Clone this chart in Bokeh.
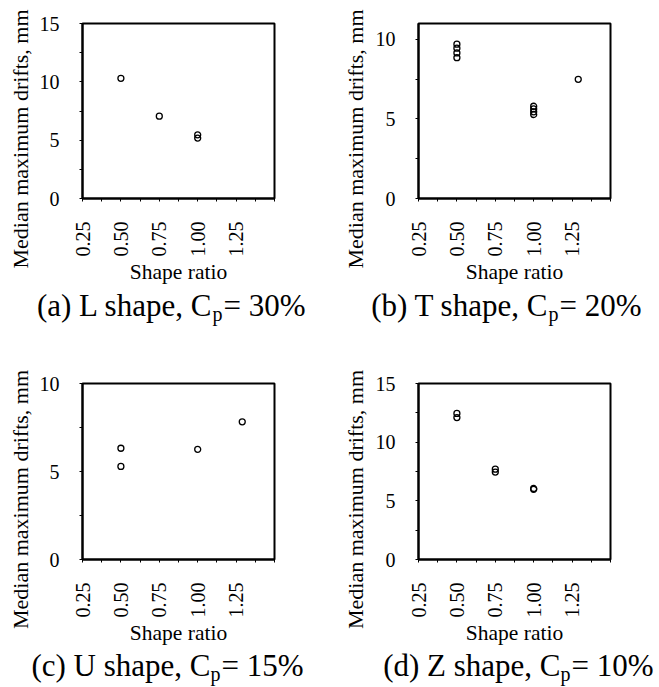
from math import pi
from bokeh.plotting import figure
from bokeh.models import Range1d, FixedTicker, ColumnDataSource
from bokeh.core.properties import value
from bokeh.layouts import column, row
from bokeh.embed import file_html
from bokeh.resources import INLINE

# ---------------- data ----------------
x_ticks = [0.25, 0.50, 0.75, 1.00, 1.25]
x_tick_labels = ["0.25", "0.50", "0.75", "1.00", "1.25"]
x_minor = [0.375, 0.625, 0.875, 1.125, 1.375, 1.5]
x_min, x_max = 0.25, 1.5

ratio_a = [0.5, 0.75, 1.0, 1.0]
drift_a = [10.3, 7.06, 5.46, 5.18]

ratio_b = [0.5, 0.5, 0.5, 0.5, 1.0, 1.0, 1.0, 1.0, 1.29]
drift_b = [9.7, 9.45, 9.15, 8.85, 5.8, 5.63, 5.45, 5.28, 7.49]

ratio_c = [0.5, 0.5, 1.0, 1.29]
drift_c = [6.32, 5.29, 6.26, 7.82]

ratio_d = [0.5, 0.5, 0.75, 0.75, 1.0, 1.0]
drift_d = [12.45, 12.1, 7.7, 7.45, 6.05, 5.98]

y_ticks_15 = [0, 5, 10, 15]
y_minor_15 = [2.5, 7.5, 12.5]
y_ticks_10 = [0, 5, 10]
y_minor_10 = [2.5, 7.5]

x_label = "Shape ratio"
y_label = "Median maximum drifts, mm"

title_main = ["(a) L shape, C", "(b) T shape, C", "(c) U shape, C", "(d) Z shape, C"]
title_sub = ["p", "p", "p", "p"]
title_tail = ["= 30%", "= 20%", "= 15%", "= 10%"]

FONT = "Liberation Serif"
W = 659


def panel(xs, ys, y_end, y_ticks, y_minor, width, height, bl, br, bt, bb):
    p = figure(width=width, height=height, output_backend="svg",
               toolbar_location=None, tools="",
               x_range=Range1d(x_min, x_max), y_range=Range1d(0, y_end),
               min_border_left=bl, min_border_right=br,
               min_border_top=bt, min_border_bottom=bb)
    p.frame_align = False
    p.background_fill_color = "white"
    p.border_fill_color = "white"
    p.outline_line_color = "black"
    p.outline_line_width = 2
    p.outline_line_alpha = 1
    p.xgrid.visible = False
    p.ygrid.visible = False

    src = ColumnDataSource(dict(x=xs, y=ys))
    p.scatter("x", "y", source=src, marker="circle", size=6,
              fill_alpha=0, line_color="black", line_width=1.3)

    xa = p.xaxis[0]
    xa.ticker = FixedTicker(ticks=x_ticks, minor_ticks=x_minor)
    xa.major_label_overrides = {t: s for t, s in zip(x_ticks, x_tick_labels)}
    xa.major_label_orientation = pi / 2
    ya = p.yaxis[0]
    ya.ticker = FixedTicker(ticks=y_ticks, minor_ticks=y_minor)
    for ax in (xa, ya):
        ax.axis_line_color = "black"
        ax.axis_line_width = 2
        ax.major_tick_in = 0
        ax.major_tick_out = 3
        ax.minor_tick_in = 0
        ax.minor_tick_out = 3
        ax.major_tick_line_color = "black"
        ax.minor_tick_line_color = "black"
        ax.major_label_text_font = FONT
        ax.major_label_text_font_size = "20px"
        ax.major_label_text_color = "black"
    xa.major_label_standoff = 20
    ya.major_label_standoff = 20
    xa.axis_label = x_label
    xa.axis_label_text_font = FONT
    xa.axis_label_text_font_size = "21.5px"
    xa.axis_label_text_font_style = "normal"
    xa.axis_label_text_color = "black"
    xa.axis_label_standoff = 0
    return p


def text_fig(width, height):
    f = figure(width=width, height=height, output_backend="svg",
               toolbar_location=None, tools="",
               x_range=Range1d(0, width), y_range=Range1d(height, 0),
               x_axis_location=None, y_axis_location=None,
               min_border=0)
    f.frame_align = False
    f.grid.visible = False
    f.outline_line_color = None
    f.background_fill_color = "white"
    f.border_fill_color = "white"
    return f


def ylabel_fig(width, height, bx, cy):
    f = text_fig(width, height)
    f.text(x=[bx], y=[cy], text=[y_label], angle=pi / 2,
           text_align="center", text_baseline="alphabetic",
           text_font=value(FONT), text_font_size=value("22px"),
           text_color="black")
    return f


def title_fig(height, anchors, base, idx):
    f = text_fig(W, height)
    mains = [title_main[i] for i in idx]
    subs = [title_sub[i] for i in idx]
    tails = [title_tail[i] for i in idx]
    n = len(idx)
    f.text(x=anchors, y=[base] * n, text=mains, text_align="right",
           text_baseline="alphabetic", text_font=value(FONT),
           text_font_size=value("31px"), text_color="black")
    f.text(x=anchors, y=[base + 8] * n, text=subs, text_align="left",
           text_baseline="alphabetic", text_font=value(FONT),
           text_font_size=value("20px"), text_color="black")
    f.text(x=[a + 11 for a in anchors], y=[base] * n, text=tails,
           text_align="left", text_baseline="alphabetic",
           text_font=value(FONT), text_font_size=value("31px"),
           text_color="black")
    return f


# row 1 : panels (a) and (b)
H1 = 288
yl_a = ylabel_fig(36, H1, 19.5, 138.5)
pa = panel(ratio_a, drift_a, 15, y_ticks_15, y_minor_15, 294, H1, 41, 56, 23, 90)
yl_b = ylabel_fig(42, H1, 24.5, 138.5)
pb = panel(ratio_b, drift_b, 11, y_ticks_10, y_minor_10, 287, H1, 41, 49, 23, 90)

# row 2 : titles (a), (b)
t1 = title_fig(52, [212, 548], 17.2, [0, 1])

# row 3 : panels (c) and (d)
H3 = 308
yl_c = ylabel_fig(36, H3, 19.5, 159)
pc = panel(ratio_c, drift_c, 10, y_ticks_10, y_minor_10, 294, H3, 41, 56, 43, 89)
yl_d = ylabel_fig(42, H3, 24.5, 159)
pd = panel(ratio_d, drift_d, 15, y_ticks_15, y_minor_15, 287, H3, 41, 49, 43, 89)

# row 4 : titles (c), (d)
t2 = title_fig(39, [210, 560], 17.2, [2, 3])

layout = column(row(yl_a, pa, yl_b, pb), t1, row(yl_c, pc, yl_d, pd), t2)
open("out.html", "w").write(file_html(layout, INLINE))
